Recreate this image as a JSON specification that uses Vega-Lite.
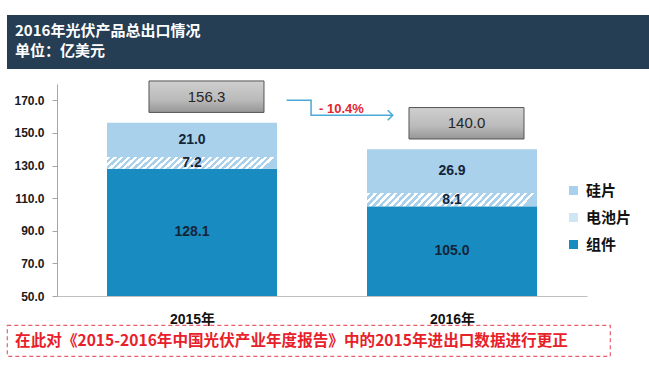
{
  "$schema": "https://vega.github.io/schema/vega-lite/v6.json",
  "background": "white",
  "padding": {"left": 6, "top": 15, "right": 0, "bottom": 0},
  "config": {"view": {"stroke": null}, "font": "Liberation Sans, Noto Sans CJK SC"},
  "columns": 1,
  "align": "none",
  "spacing": 9,
  "concat": [
    {
      "width": 643,
      "height": 54,
      "view": {"fill": "#263e54", "stroke": null},
      "title": {
        "text": ["2016年光伏产品总出口情况", "单位：亿美元"],
        "anchor": "start",
        "orient": "top",
        "frame": "group",
        "offset": -44,
        "dx": 8,
        "color": "#ffffff",
        "font": "Noto Sans CJK SC",
        "fontSize": 15,
        "fontWeight": "bold",
        "lineHeight": 20
      },
      "data": {"values": []},
      "mark": "rect",
      "encoding": {}
    },
    {
      "columns": 1,
      "align": "none",
      "spacing": -2,
      "concat": [
        {
          "spacing": 0,
          "hconcat": [
            {
              "width": 6,
              "height": 212,
              "data": {"values": []},
              "mark": "rect",
              "encoding": {}
            },
            {
              "width": 530,
              "height": 212,
              "data": {
                "values": [
                  {"year": 2015, "type": "组件", "value": 128.1},
                  {"year": 2015, "type": "电池片", "value": 7.2},
                  {"year": 2015, "type": "硅片", "value": 21.0},
                  {"year": 2016, "type": "组件", "value": 105.0},
                  {"year": 2016, "type": "电池片", "value": 8.1},
                  {"year": 2016, "type": "硅片", "value": 26.9}
                ]
              },
              "transform": [
                {"calculate": "indexof(['组件','电池片','硅片'], datum.type)", "as": "ord"},
                {"stack": "value", "groupby": ["year"], "sort": [{"field": "ord", "order": "ascending"}], "as": ["v0", "v1"]},
                {"calculate": "(max(datum.v0, 50) + datum.v1) / 2", "as": "mid"}
              ],
              "layer": [
                {
                  "mark": {"type": "bar", "width": 170},
                  "encoding": {
                    "x": {
                      "field": "year", "type": "quantitative",
                      "scale": {"domain": [2014.5, 2016.5], "nice": false, "zero": false},
                      "axis": {
                        "title": null, "values": [2015, 2016], "tickCount": 10, "labelExpr": "datum.value + '年'",
                        "labelFont": "Liberation Sans, Noto Sans CJK SC", "labelFontWeight": "bold", "labelFontSize": 14,
                        "labelColor": "#111111", "ticks": false, "tickSize": 0, "labelPadding": 16,
                        "domainColor": "#bfbfbf", "grid": false
                      }
                    },
                    "y": {
                      "field": "v0", "type": "quantitative",
                      "scale": {"domain": [50, 180], "nice": false, "zero": false, "clamp": true},
                      "axis": {
                        "title": null,
                        "values": [50, 70, 90, 110, 130, 150, 170], "tickCount": 10, "format": ".1f", "labelOverlap": false,
                        "labelFont": "Liberation Sans", "labelFontWeight": "bold", "labelFontSize": 12,
                        "labelColor": "#1a1a1a", "labelPadding": 8, "tickSize": 5,
                        "tickColor": "#a6a6a6", "domainColor": "#a6a6a6", "grid": false
                      }
                    },
                    "y2": {"field": "v1"},
                    "color": {
                      "field": "type", "type": "nominal",
                      "scale": {"domain": ["硅片", "电池片", "组件"], "range": ["#a9d1ec", "#cfe6f4", "#188bc0"]},
                      "legend": {
                        "title": null, "orient": "none", "legendX": 559, "legendY": 168,
                        "symbolType": "square", "symbolSize": 81, "symbolStrokeWidth": 0,
                        "labelFont": "Noto Sans CJK SC", "labelFontWeight": "bold", "labelFontSize": 15,
                        "labelColor": "#111111", "labelOffset": 5, "rowPadding": 11, "padding": 0
                      }
                    }
                  }
                },
                {
                  "transform": [{"filter": "datum.type === '电池片'"}],
                  "mark": {
                    "type": "bar", "width": 170,
                    "fill": {
                      "gradient": "linear", "x1": 0, "y1": 0, "x2": 1, "y2": 0.074,
                      "stops": [
                        {"offset": 0, "color": "#ffffff"},
                        {"offset": 0.02, "color": "#ffffff"}, {"offset": 0.02, "color": "#a9d1ec"},
                        {"offset": 0.04, "color": "#a9d1ec"}, {"offset": 0.04, "color": "#ffffff"},
                        {"offset": 0.06, "color": "#ffffff"}, {"offset": 0.06, "color": "#a9d1ec"},
                        {"offset": 0.08, "color": "#a9d1ec"}, {"offset": 0.08, "color": "#ffffff"},
                        {"offset": 0.10, "color": "#ffffff"}, {"offset": 0.10, "color": "#a9d1ec"},
                        {"offset": 0.12, "color": "#a9d1ec"}, {"offset": 0.12, "color": "#ffffff"},
                        {"offset": 0.14, "color": "#ffffff"}, {"offset": 0.14, "color": "#a9d1ec"},
                        {"offset": 0.16, "color": "#a9d1ec"}, {"offset": 0.16, "color": "#ffffff"},
                        {"offset": 0.18, "color": "#ffffff"}, {"offset": 0.18, "color": "#a9d1ec"},
                        {"offset": 0.20, "color": "#a9d1ec"}, {"offset": 0.20, "color": "#ffffff"},
                        {"offset": 0.22, "color": "#ffffff"}, {"offset": 0.22, "color": "#a9d1ec"},
                        {"offset": 0.24, "color": "#a9d1ec"}, {"offset": 0.24, "color": "#ffffff"},
                        {"offset": 0.26, "color": "#ffffff"}, {"offset": 0.26, "color": "#a9d1ec"},
                        {"offset": 0.28, "color": "#a9d1ec"}, {"offset": 0.28, "color": "#ffffff"},
                        {"offset": 0.30, "color": "#ffffff"}, {"offset": 0.30, "color": "#a9d1ec"},
                        {"offset": 0.32, "color": "#a9d1ec"}, {"offset": 0.32, "color": "#ffffff"},
                        {"offset": 0.34, "color": "#ffffff"}, {"offset": 0.34, "color": "#a9d1ec"},
                        {"offset": 0.36, "color": "#a9d1ec"}, {"offset": 0.36, "color": "#ffffff"},
                        {"offset": 0.38, "color": "#ffffff"}, {"offset": 0.38, "color": "#a9d1ec"},
                        {"offset": 0.40, "color": "#a9d1ec"}, {"offset": 0.40, "color": "#ffffff"},
                        {"offset": 0.42, "color": "#ffffff"}, {"offset": 0.42, "color": "#a9d1ec"},
                        {"offset": 0.44, "color": "#a9d1ec"}, {"offset": 0.44, "color": "#ffffff"},
                        {"offset": 0.46, "color": "#ffffff"}, {"offset": 0.46, "color": "#a9d1ec"},
                        {"offset": 0.48, "color": "#a9d1ec"}, {"offset": 0.48, "color": "#ffffff"},
                        {"offset": 0.50, "color": "#ffffff"}, {"offset": 0.50, "color": "#a9d1ec"},
                        {"offset": 0.52, "color": "#a9d1ec"}, {"offset": 0.52, "color": "#ffffff"},
                        {"offset": 0.54, "color": "#ffffff"}, {"offset": 0.54, "color": "#a9d1ec"},
                        {"offset": 0.56, "color": "#a9d1ec"}, {"offset": 0.56, "color": "#ffffff"},
                        {"offset": 0.58, "color": "#ffffff"}, {"offset": 0.58, "color": "#a9d1ec"},
                        {"offset": 0.60, "color": "#a9d1ec"}, {"offset": 0.60, "color": "#ffffff"},
                        {"offset": 0.62, "color": "#ffffff"}, {"offset": 0.62, "color": "#a9d1ec"},
                        {"offset": 0.64, "color": "#a9d1ec"}, {"offset": 0.64, "color": "#ffffff"},
                        {"offset": 0.66, "color": "#ffffff"}, {"offset": 0.66, "color": "#a9d1ec"},
                        {"offset": 0.68, "color": "#a9d1ec"}, {"offset": 0.68, "color": "#ffffff"},
                        {"offset": 0.70, "color": "#ffffff"}, {"offset": 0.70, "color": "#a9d1ec"},
                        {"offset": 0.72, "color": "#a9d1ec"}, {"offset": 0.72, "color": "#ffffff"},
                        {"offset": 0.74, "color": "#ffffff"}, {"offset": 0.74, "color": "#a9d1ec"},
                        {"offset": 0.76, "color": "#a9d1ec"}, {"offset": 0.76, "color": "#ffffff"},
                        {"offset": 0.78, "color": "#ffffff"}, {"offset": 0.78, "color": "#a9d1ec"},
                        {"offset": 0.80, "color": "#a9d1ec"}, {"offset": 0.80, "color": "#ffffff"},
                        {"offset": 0.82, "color": "#ffffff"}, {"offset": 0.82, "color": "#a9d1ec"},
                        {"offset": 0.84, "color": "#a9d1ec"}, {"offset": 0.84, "color": "#ffffff"},
                        {"offset": 0.86, "color": "#ffffff"}, {"offset": 0.86, "color": "#a9d1ec"},
                        {"offset": 0.88, "color": "#a9d1ec"}, {"offset": 0.88, "color": "#ffffff"},
                        {"offset": 0.90, "color": "#ffffff"}, {"offset": 0.90, "color": "#a9d1ec"},
                        {"offset": 0.92, "color": "#a9d1ec"}, {"offset": 0.92, "color": "#ffffff"},
                        {"offset": 0.94, "color": "#ffffff"}, {"offset": 0.94, "color": "#a9d1ec"},
                        {"offset": 0.96, "color": "#a9d1ec"}, {"offset": 0.96, "color": "#ffffff"},
                        {"offset": 0.98, "color": "#ffffff"}, {"offset": 0.98, "color": "#a9d1ec"},
                        {"offset": 1, "color": "#a9d1ec"}
                      ]
                    }
                  },
                  "encoding": {
                    "x": {"field": "year", "type": "quantitative"},
                    "y": {"field": "v0", "type": "quantitative"},
                    "y2": {"field": "v1"}
                  }
                },
                {
                  "mark": {"type": "text", "font": "Liberation Sans", "fontWeight": "bold", "fontSize": 14, "color": "#14253a"},
                  "encoding": {
                    "x": {"field": "year", "type": "quantitative"},
                    "y": {"field": "mid", "type": "quantitative"},
                    "text": {"field": "value", "type": "quantitative", "format": ".1f"}
                  }
                },
                {
                  "transform": [{"aggregate": [{"op": "sum", "field": "value", "as": "total"}], "groupby": ["year"]}],
                  "mark": {
                    "type": "point", "filled": true, "opacity": 1, "size": 13225,
                    "shape": "M-0.748,-0.725L1.252,-0.725L1.252,-0.178L-0.748,-0.178Z",
                    "fill": {
                      "gradient": "linear", "x1": 0, "y1": 0, "x2": 0, "y2": 1,
                      "stops": [
                        {"offset": 0, "color": "#cfcfcf"},
                        {"offset": 0.6, "color": "#bababa"},
                        {"offset": 1, "color": "#969696"}
                      ]
                    },
                    "stroke": "#555555", "strokeWidth": 1
                  },
                  "encoding": {
                    "x": {"field": "year", "type": "quantitative"},
                    "y": {"field": "total", "type": "quantitative"}
                  }
                },
                {
                  "transform": [{"aggregate": [{"op": "sum", "field": "value", "as": "total"}], "groupby": ["year"]}],
                  "mark": {"type": "text", "font": "Liberation Sans", "fontSize": 15, "color": "#262626", "dx": 14.5, "dy": -26},
                  "encoding": {
                    "x": {"field": "year", "type": "quantitative"},
                    "y": {"field": "total", "type": "quantitative"},
                    "text": {"field": "total", "type": "quantitative", "format": ".1f"}
                  }
                },
                {
                  "data": {
                    "values": [
                      {"ax": 2015.364, "ay": 170.0},
                      {"ax": 2015.458, "ay": 170.0},
                      {"ax": 2015.458, "ay": 160.8},
                      {"ax": 2015.772, "ay": 160.8}
                    ]
                  },
                  "mark": {"type": "line", "color": "#4aa9d6", "strokeWidth": 1.5},
                  "encoding": {
                    "x": {"field": "ax", "type": "quantitative"},
                    "y": {"field": "ay", "type": "quantitative"},
                    "order": {"value": null}
                  }
                },
                {
                  "data": {"values": [{"ax": 2015.772, "ay": 160.8}]},
                  "mark": {"type": "point", "shape": "M-1,-1L0,0L-1,1", "filled": false, "opacity": 1, "size": 100, "color": "#4aa9d6", "strokeWidth": 1.5},
                  "encoding": {
                    "x": {"field": "ax", "type": "quantitative"},
                    "y": {"field": "ay", "type": "quantitative"}
                  }
                },
                {
                  "data": {"values": [{"ax": 2015.575, "ay": 164.6, "label": "- 10.4%"}]},
                  "mark": {"type": "text", "font": "Liberation Sans", "fontWeight": "bold", "fontSize": 13, "color": "#e3262d"},
                  "encoding": {
                    "x": {"field": "ax", "type": "quantitative"},
                    "y": {"field": "ay", "type": "quantitative"},
                    "text": {"field": "label"}
                  }
                }
              ]
            }
          ]
        },
        {
          "width": 603,
          "height": 31,
          "view": {"stroke": "#e8606c", "strokeDash": [4, 3], "strokeWidth": 1.2, "fill": null},
          "data": {"values": [{"note": "在此对《2015-2016年中国光伏产业年度报告》中的2015年进出口数据进行更正"}]},
          "mark": {"type": "text", "font": "Noto Sans CJK SC", "fontWeight": "bold", "fontSize": 15.6, "color": "#e8202a", "dx": -17},
          "encoding": {"text": {"field": "note"}}
        }
      ]
    }
  ]
}
